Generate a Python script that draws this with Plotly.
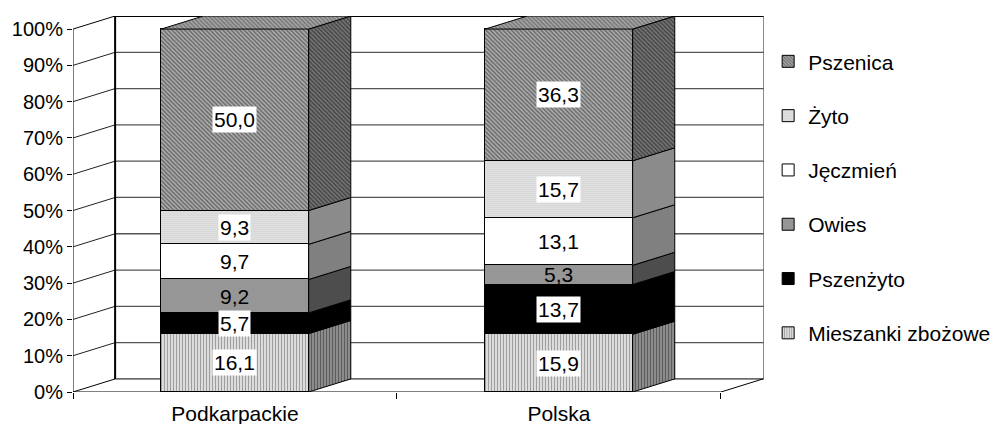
import plotly.graph_objects as go

categories = ["Podkarpackie", "Polska"]
series_names = ["Mieszanki zbożowe", "Pszenżyto", "Owies", "Jęczmień", "Żyto", "Pszenica"]
mieszanki = [16.1, 15.9]
pszenzyto = [5.7, 13.7]
owies = [9.2, 5.3]
jeczmien = [9.7, 13.1]
zyto = [9.3, 15.7]
pszenica = [50.0, 36.3]
series_values = [mieszanki, pszenzyto, owies, jeczmien, zyto, pszenica]
y_ticks = [0, 10, 20, 30, 40, 50, 60, 70, 80, 90, 100]

FONT = "Liberation Sans, Arial, sans-serif"
DX, DY = 0.13, 3.6
BAR_W = 0.455
XMAX, YMAX = 2.133, 103.6
xpos = [0.5, 1.5]

front = [
    dict(color="#d0d0d0", pattern=dict(shape="|", size=3, solidity=0.45, fgcolor="#555555", bgcolor="#e8e8e8")),
    dict(color="#000000"),
    dict(color="#969696"),
    dict(color="#ffffff"),
    dict(color="#e0e0e0", pattern=dict(shape=".", size=2, solidity=0.3, fgcolor="#555555", bgcolor="#ececec")),
    dict(color="#808080", pattern=dict(shape="\\", size=3, solidity=0.5, fgcolor="#222222", bgcolor="#b0b0b0")),
]
side = [
    dict(shape="|", size=3, solidity=0.5, fgcolor="#222222", bgcolor="#999999"),
    None,
    None,
    None,
    dict(shape=".", size=2, solidity=0.4, fgcolor="#333333", bgcolor="#a0a0a0"),
    dict(shape="\\", size=3, solidity=0.5, fgcolor="#111111", bgcolor="#777777"),
]
side_solid = ["#777777", "#000000", "#4d4d4d", "#808080", "#808080", "#555555"]
top_pattern = dict(shape="\\", size=3, solidity=0.5, fgcolor="#444444", bgcolor="#a8a8a8")

shapes = []
def seg(x0, y0, x1, y1, color="#000000", width=1):
    shapes.append(dict(type="line", xref="x", yref="y", x0=x0, y0=y0, x1=x1, y1=y1,
                       line=dict(color=color, width=width), layer="below"))

for v in y_ticks[1:-1]:
    seg(0, v, DX, v + DY, "#222222", 1)
    seg(DX, v + DY, XMAX, v + DY, "#555555", 1.3)
seg(0, 100, DX, 100 + DY, "#000000", 1)
seg(0, 0, DX, DY, "#000000", 1)
seg(0, 0, 0, 100, "#000000", 1)
seg(DX, DY, DX, 100 + DY, "#000000", 2)
seg(DX, 100 + DY, XMAX, 100 + DY, "#000000", 2)
seg(DX, DY, XMAX, DY, "#000000", 1)
seg(XMAX, DY, XMAX, 100 + DY, "#666666", 1.5)
seg(0, 0, 2, 0, "#000000", 1)
seg(2, 0, 2 + DX, DY, "#000000", 1)

fig = go.Figure()

for i, (name, vals) in enumerate(zip(series_names, series_values)):
    fig.add_trace(go.Bar(
        x=xpos, y=vals, name=name, width=BAR_W, legendgroup=name,
        legendrank=len(series_names) - i,
        marker=dict(line=dict(color="#000000", width=1), **front[i]),
        hoverinfo="skip",
    ))

annotations = []
no_box = {"Owies"}
for c, xc in enumerate(xpos):
    base = 0
    xr = xc + BAR_W / 2
    xl = xc - BAR_W / 2
    for i, vals in enumerate(series_values):
        v = vals[c]
        top = base + v
        kw = dict(fill="toself", mode="lines", line=dict(color="#000000", width=1),
                  showlegend=False, hoverinfo="skip")
        if side[i]:
            kw["fillpattern"] = side[i]
        else:
            kw["fillcolor"] = side_solid[i]
        fig.add_trace(go.Scatter(
            x=[xr, xr + DX, xr + DX, xr, xr],
            y=[base, base + DY, top + DY, top, base], **kw))
        annotations.append(dict(
            x=xc, y=base + v / 2, xref="x", yref="y", showarrow=False,
            text=f"{v:.1f}".replace(".", ","), font=dict(family=FONT, size=21, color="#000000"),
            bgcolor=None if series_names[i] in no_box else "#ffffff", borderpad=1,
        ))
        base = top
    fig.add_trace(go.Scatter(
        x=[xl, xl + DX, xr + DX, xr, xl],
        y=[base, base + DY, base + DY, base, base],
        fill="toself", mode="lines", line=dict(color="#000000", width=1),
        fillpattern=top_pattern, showlegend=False, hoverinfo="skip"))

fig.update_layout(
    width=993, height=424, autosize=False,
    paper_bgcolor="#ffffff", plot_bgcolor="#ffffff",
    margin=dict(l=73, r=229, t=16, b=32, pad=0, autoexpand=False),
    barmode="stack", bargap=0,
    font=dict(family=FONT, size=21, color="#000000"),
    shapes=shapes, annotations=annotations,
    xaxis=dict(range=[0, XMAX], tickmode="array", tickvals=xpos, ticktext=categories,
               ticks="", showgrid=False, zeroline=False, showline=False,
               tickfont=dict(family=FONT, size=21), ticklabelstandoff=7,
               minor=dict(ticks="outside", tickmode="array", tickvals=[0, 1, 2],
                          ticklen=6, tickcolor="#000000", tickwidth=1, showgrid=False)),
    yaxis=dict(range=[0, YMAX], tickmode="array", tickvals=y_ticks,
               ticktext=[f"{v}%" for v in y_ticks],
               ticks="outside", ticklen=5, tickcolor="#000000", tickwidth=1,
               showgrid=False, zeroline=False, showline=False,
               tickfont=dict(family=FONT, size=20)),
    legend=dict(x=1.006, xanchor="left", y=0.933, yanchor="top",
                traceorder="grouped", tracegroupgap=24,
                font=dict(family=FONT, size=21), bgcolor="rgba(0,0,0,0)", borderwidth=0),
)

fig.write_html("out.html", config=dict(displayModeBar=False),
               post_script="document.body.style.margin='0';document.body.style.overflow='hidden';")
